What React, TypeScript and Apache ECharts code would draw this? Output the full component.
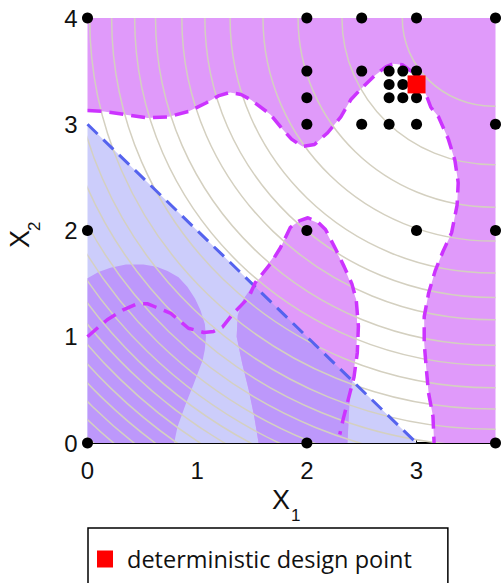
import React, { useEffect, useRef } from "react";
import * as echarts from "echarts";

type Pt = [number, number];

const X_MAX = 3.72;
const Y_MAX = 4;

// feasible-region fills
const blueRegion: Pt[] = [[0, 0], [0, 3], [3, 0]];

const upperRegion: Pt[] = [
  [0, 4], [3.72, 4], [3.72, 0], [3.16, 0], [3.15, 0.25], [3.11, 0.47], [3.09, 0.69],
  [3.07, 0.94], [3.07, 1.19], [3.11, 1.41], [3.17, 1.62], [3.24, 1.8], [3.32, 1.98],
  [3.37, 2.24], [3.38, 2.45], [3.35, 2.66], [3.29, 2.86], [3.2, 3.07], [3.13, 3.16],
  [3.09, 3.27], [3.02, 3.42], [2.95, 3.5], [2.87, 3.56], [2.79, 3.57], [2.72, 3.54],
  [2.62, 3.46], [2.5, 3.34], [2.4, 3.23], [2.31, 3.07], [2.19, 2.92], [2.07, 2.81],
  [1.96, 2.79], [1.86, 2.86], [1.78, 2.95], [1.67, 3.09], [1.49, 3.23], [1.4, 3.28],
  [1.3, 3.3], [1.2, 3.27], [1.08, 3.2], [0.92, 3.12], [0.74, 3.07], [0.55, 3.06],
  [0.35, 3.09], [0.15, 3.12], [0, 3.13],
];

const lobeRegion: Pt[] = [
  [1.56, 0], [1.52, 0.25], [1.47, 0.5], [1.41, 0.75], [1.36, 1.0], [1.37, 1.2],
  [1.42, 1.35], [1.52, 1.5], [1.58, 1.56], [1.65, 1.69], [1.76, 1.84], [1.85, 2.03],
  [1.93, 2.09], [2.01, 2.11], [2.1, 2.07], [2.17, 2.0], [2.26, 1.82], [2.34, 1.66],
  [2.4, 1.5], [2.45, 1.35], [2.46, 1.09], [2.45, 0.85], [2.42, 0.62], [2.39, 0.42],
  [2.38, 0.2], [2.37, 0],
];

const cornerRegion: Pt[] = [
  [0, 0], [0, 1.55], [0.1, 1.61], [0.21, 1.65], [0.35, 1.68], [0.51, 1.68], [0.63, 1.66],
  [0.73, 1.62], [0.83, 1.56], [0.91, 1.47], [0.98, 1.36], [1.03, 1.25], [1.07, 1.12],
  [1.08, 1.0], [1.07, 0.88], [1.05, 0.78], [0.97, 0.56], [0.9, 0.38], [0.82, 0.15],
  [0.79, 0],
];

// constraint boundaries (dashed)
const linearLimit: Pt[] = [[0, 3], [3, 0]];

const upperLimit: Pt[] = upperRegion.slice(3).reverse();

const lobeLimit: Pt[] = [
  [0, 1.0], [0.1, 1.09], [0.18, 1.16], [0.32, 1.25], [0.45, 1.31], [0.55, 1.31],
  [0.62, 1.28], [0.76, 1.22], [0.92, 1.08], [1.06, 1.04], [1.15, 1.05], [1.23, 1.09],
  [1.33, 1.22], [1.47, 1.37], [1.53, 1.51], [1.67, 1.69], [1.76, 1.84], [1.85, 2.03],
  [1.93, 2.09], [2.01, 2.12], [2.1, 2.08], [2.17, 2.01], [2.26, 1.83], [2.34, 1.66],
  [2.41, 1.5], [2.45, 1.35], [2.47, 1.1], [2.46, 0.85], [2.43, 0.62], [2.38, 0.42],
  [2.33, 0.22], [2.3, 0.08],
];

// objective contours: circles about the upper-right corner
const contourCenter: Pt = [3.7, 4.0];
const contourRadii = [
  0.83, 1.38, 1.78, 2.1, 2.4, 2.63, 2.84, 3.08, 3.27, 3.48, 3.68, 3.87, 4.03, 4.18,
  4.32, 4.45, 4.57, 4.69, 4.81, 4.93, 5.05, 5.17, 5.29, 5.41,
];

// sampled design points
const samplePoints: Pt[] = [
  [0, 4], [2, 4], [2.5, 4], [3, 4], [3.72, 4],
  [2, 3.5], [2.5, 3.5], [2.75, 3.5], [2.875, 3.5], [3, 3.5],
  [2.75, 3.375], [2.875, 3.375],
  [2, 3.25], [2.75, 3.25], [2.875, 3.25], [3, 3.25],
  [2, 3], [2.5, 3], [2.75, 3], [3, 3], [3.72, 3],
  [0, 2], [2, 2], [3, 2], [3.72, 2],
  [0, 0], [2, 0], [3.72, 0],
];

const designPoint: Pt[] = [[3, 3.375]];

const PINK = "#e09afa";
const BLUE = "#cccdfb";
const OVERLAP = "#bd98fb";
const MAGENTA = "#cc33ff";
const LINE_BLUE = "#5563ee";

function fillSeries(pts: Pt[], fill: string, z: number, clip?: Pt[]) {
  return {
    type: "custom",
    silent: true,
    z,
    data: [[0, 0]],
    renderItem: (_params: any, api: any) => {
      const el: any = {
        type: "polygon",
        shape: { points: pts.map((p) => api.coord(p)) },
        style: { fill },
      };
      if (clip) {
        el.clipPath = { type: "polygon", shape: { points: clip.map((p) => api.coord(p)) } };
      }
      return el;
    },
  };
}

function dashedSeries(pts: Pt[], color: string, width: number) {
  return {
    type: "line",
    data: pts,
    showSymbol: false,
    silent: true,
    z: 4,
    lineStyle: { color, width, type: [14, 8] },
  };
}

export default function App() {
  const ref = useRef<HTMLDivElement>(null);

  useEffect(() => {
    if (!ref.current) return;
    const chart = echarts.init(ref.current, undefined, { renderer: "svg" });
    const labelFont = "Liberation Sans";

    chart.setOption({
      animation: false,
      backgroundColor: "#ffffff",
      grid: { left: 87.5, top: 18, width: 408, height: 425 },
      xAxis: {
        type: "value",
        min: 0,
        max: X_MAX,
        interval: 1,
        splitLine: { show: false },
        axisLine: { show: true, lineStyle: { color: "#000", width: 2 } },
        axisTick: { show: true, inside: true, length: 4, lineStyle: { color: "#000" } },
        axisLabel: {
          margin: 15,
          fontFamily: labelFont,
          fontSize: 24,
          color: "#111",
          formatter: (v: number) => (Number.isInteger(v) ? String(v) : ""),
        },
      },
      yAxis: {
        type: "value",
        min: 0,
        max: Y_MAX,
        interval: 1,
        splitLine: { show: false },
        axisLine: { show: false },
        axisTick: { show: false },
        axisLabel: {
          margin: 10,
          fontFamily: labelFont,
          fontSize: 24,
          color: "#111",
          padding: [4, 0, 0, 0],
        },
      },
      legend: {
        data: ["deterministic design point"],
        left: 88,
        top: 528,
        orient: "vertical",
        padding: [19, 36, 30, 9],
        borderColor: "#000",
        borderWidth: 1.5,
        backgroundColor: "#fff",
        itemWidth: 16,
        itemHeight: 17,
        icon: "rect",
        selectedMode: false,
        itemStyle: { color: "#ff0000", opacity: 1 },
        textStyle: {
          fontFamily: "Open Sans",
          fontSize: 23.5,
          color: "#111",
          padding: [0, 0, 0, 9],
        },
      },
      graphic: [
        { type: "text", left: 272, top: 486, style: { text: "X", font: `27px "${labelFont}"`, fill: "#111" } },
        { type: "text", left: 291, top: 507, style: { text: "1", font: `17px "${labelFont}"`, fill: "#111" } },
        {
          type: "group",
          x: 6,
          y: 248,
          rotation: Math.PI / 2,
          children: [
            { type: "text", x: 0, y: 0, style: { text: "X", font: `27px "${labelFont}"`, fill: "#111", verticalAlign: "top" } },
            { type: "text", x: 17, y: 20, style: { text: "2", font: `17px "${labelFont}"`, fill: "#111", verticalAlign: "top" } },
          ],
        },
      ],
      series: [
        fillSeries(blueRegion, BLUE, 1),
        fillSeries(upperRegion, PINK, 1),
        fillSeries(lobeRegion, PINK, 1),
        fillSeries(lobeRegion, OVERLAP, 1, blueRegion),
        fillSeries(cornerRegion, OVERLAP, 1),
        {
          type: "custom",
          silent: true,
          z: 3,
          data: [[0, 0]],
          renderItem: (params: any, api: any) => {
            const [cx, cy] = api.coord(contourCenter);
            const cs = params.coordSys;
            return {
              type: "group",
              clipPath: { type: "rect", shape: { x: cs.x, y: cs.y, width: cs.width, height: cs.height } },
              children: contourRadii.map((r) => ({
                type: "ellipse",
                shape: { cx, cy, rx: api.size([r, 0])[0], ry: api.size([0, r])[1] },
                style: { fill: "none", stroke: "#d4d0c0", lineWidth: 1.5 },
              })),
            };
          },
        },
        dashedSeries(linearLimit, LINE_BLUE, 3),
        dashedSeries(upperLimit, MAGENTA, 3.5),
        dashedSeries(lobeLimit, MAGENTA, 3.5),
        {
          type: "scatter",
          data: samplePoints,
          symbol: "circle",
          symbolSize: 11,
          itemStyle: { color: "#000", opacity: 1 },
          silent: true,
          z: 5,
          clip: false,
        },
        {
          name: "deterministic design point",
          type: "scatter",
          data: designPoint,
          symbol: "rect",
          symbolSize: 18,
          itemStyle: { color: "#ff0000", opacity: 1 },
          silent: true,
          z: 6,
        },
      ],
    });

    return () => chart.dispose();
  }, []);

  return (
    <div
      ref={ref}
      style={{ position: "fixed", left: 0, top: 0, width: 501, height: 583 }}
    />
  );
}
